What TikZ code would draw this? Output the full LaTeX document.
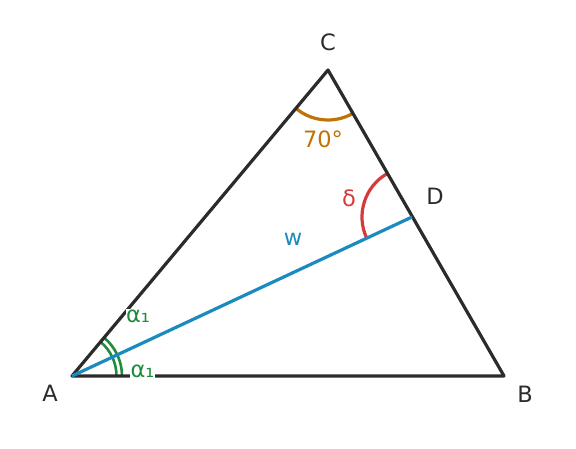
\documentclass[tikz,border=0pt]{standalone}
\usepackage{fontspec}
\setmainfont{DejaVu Sans}
\usetikzlibrary{angles,calc}
\definecolor{ink}{HTML}{2B2B2B}
\definecolor{wblue}{HTML}{1A8ABF}
\definecolor{orng}{HTML}{BF7306}
\definecolor{dred}{HTML}{D63B3B}
\definecolor{agreen}{HTML}{1E8C3C}
\tikzset{
  side/.style={draw=ink,line width=3.2pt,line join=round},
  vlabel/.style={font=\fontsize{22.5}{26}\selectfont,text=ink,inner sep=0pt},
  alabel/.style={font=\fontsize{22.5}{26}\selectfont,inner sep=0.5pt},
}
\begin{document}
\begin{tikzpicture}[x=1pt,y=1pt]
\useasboundingbox (0,0) rectangle (576,448);
\coordinate (A) at (72,72);
\coordinate (B) at (504,72);
\coordinate (C) at (328,378);
\coordinate (D) at (412,231);
% angle arcs
\pic[draw=agreen,line width=2.6pt,angle radius=50pt] {angle=B--A--C};
\pic[draw=agreen,line width=2.6pt,angle radius=44.5pt] {angle=B--A--C};
\pic[draw=orng,line width=3.2pt,angle radius=50pt] {angle=A--C--B};
\pic[draw=dred,line width=3.2pt,angle radius=50pt] {angle=C--D--A};
% triangle and bisector
\draw[side] (A) -- (B) -- (C) -- cycle;
\draw[draw=wblue,line width=3.2pt] (A) -- (D);
% labels
\node[alabel,fill=white,text=agreen] (a1) at (138,132) {α₁};
\node[alabel,fill=white,text=agreen] (a2) at (142.5,77) {α₁};
\node[alabel,text=orng] (l70) at (323,309) {70°};
\node[alabel,text=dred] (ld) at (349,250) {δ};
\node[alabel,text=wblue] (lw) at (293,209) {w};
\node[vlabel] (lA) at (50,55) {A};
\node[vlabel] (lB) at (525,54) {B};
\node[vlabel] (lC) at (328,406) {C};
\node[vlabel] (lD) at (435,252) {D};
\end{tikzpicture}
\end{document}
